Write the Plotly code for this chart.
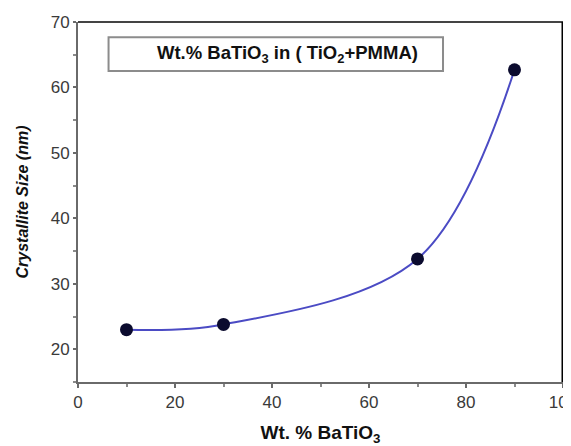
import plotly.graph_objects as go

wt_batio3 = [10, 30, 70, 90]
crystallite_size = [23.0, 23.8, 33.8, 62.7]

x_ticks = [0, 20, 40, 60, 80, 100]
y_ticks = [20, 30, 40, 50, 60, 70]

legend_text = "Wt.% BaTiO<sub>3</sub> in ( TiO<sub>2</sub>+PMMA)"
x_title = "Wt. % BaTiO<sub>3</sub>"
y_title = "<i>Crystallite Size (nm)</i>"

fig = go.Figure()
fig.add_trace(go.Scatter(
    x=wt_batio3, y=crystallite_size, mode="lines",
    line=dict(color="#4b4bc4", width=2, shape="spline", smoothing=1.0),
    showlegend=False, hoverinfo="skip"))
fig.add_trace(go.Scatter(
    x=wt_batio3, y=crystallite_size, mode="markers",
    marker=dict(color="#0b0b2e", size=13),
    showlegend=False))

font = "Liberation Sans, Arial, sans-serif"
fig.update_layout(
    width=571, height=446,
    margin=dict(l=70, r=16, t=14, b=72),
    plot_bgcolor="white", paper_bgcolor="white",
    font=dict(family=font, color="#333333", size=16),
    xaxis=dict(range=[0, 100], tickvals=x_ticks, showgrid=False, zeroline=False,
               automargin=False,
               showline=True, linecolor="#6a6a6a", linewidth=2,
               ticks="outside", ticklen=4, tickcolor="#6a6a6a", tickwidth=2,
               minor=dict(dtick=10, ticks="outside", ticklen=3, tickcolor="#8a8a8a", tickwidth=2),
               tickfont=dict(size=17, color="#3a3a3a"),
               title=dict(text="<b>" + x_title + "</b>",
                          font=dict(size=19, color="#111111", family=font), standoff=14)),
    yaxis=dict(range=[15, 70], tickvals=y_ticks, showgrid=False, zeroline=False,
               automargin=False,
               showline=True, linecolor="#6a6a6a", linewidth=2,
               ticks="outside", ticklen=3, tickcolor="#6a6a6a", tickwidth=2,
               minor=dict(dtick=5, ticks="outside", ticklen=3, tickcolor="#8a8a8a", tickwidth=2),
               tickfont=dict(size=17, color="#3a3a3a"),
               title=dict(text="<b>" + y_title + "</b>",
                          font=dict(size=16, color="#111111", family=font), standoff=18)),
    shapes=[
        dict(type="line", xref="paper", yref="paper", x0=0, x1=1, y0=1, y1=1,
             line=dict(color="#444444", width=2)),
        dict(type="line", xref="paper", yref="paper", x0=1, x1=1, y0=0, y1=1,
             line=dict(color="#000000", width=3)),
        dict(type="rect", xref="paper", yref="paper", x0=0.063, x1=0.7526,
             y0=0.864, y1=0.9575, line=dict(color="#8c8c8c", width=2),
             fillcolor="white", layer="below"),
    ],
    annotations=[
        dict(text="<b>" + legend_text + "</b>", xref="paper", yref="paper",
             x=0.431, y=0.911, xanchor="center", yanchor="middle", showarrow=False,
             font=dict(size=18.5, color="#111111", family=font)),
    ],
)

fig.write_html("out.html")
